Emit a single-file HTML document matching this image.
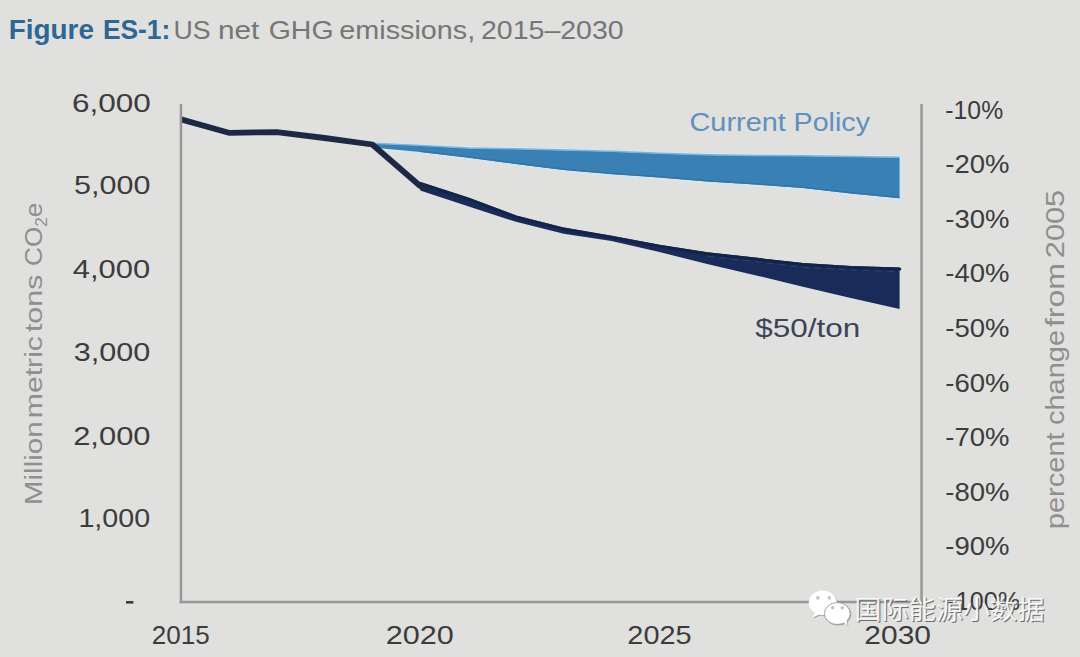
<!DOCTYPE html>
<html>
<head>
<meta charset="utf-8">
<title>Figure ES-1: US net GHG emissions, 2015–2030</title>
<style>
html,body{margin:0;padding:0;}
body{width:1080px;height:657px;overflow:hidden;background:#e0e0de;}
svg{display:block;}
text{font-family:"Liberation Sans","Noto Sans CJK SC",sans-serif;}
</style>
</head>
<body>
<svg width="1080" height="657" viewBox="0 0 1080 657">
<rect x="0" y="0" width="1080" height="657" fill="#e0e0de"/>

<g font-weight="bold" fill="#2e6694">
<text id="fig1" x="8.72" y="38.90" font-size="27.00" textLength="85.17" lengthAdjust="spacingAndGlyphs" >Figure</text>
<text id="fig2" x="102.88" y="38.90" font-size="27.00" textLength="67.45" lengthAdjust="spacingAndGlyphs" >ES-1:</text>
</g>
<g fill="#767676">
<text id="us" x="173.56" y="38.60" font-size="26.00" textLength="37.09" lengthAdjust="spacingAndGlyphs" >US</text>
<text id="net" x="217.90" y="38.60" font-size="26.00" textLength="41.38" lengthAdjust="spacingAndGlyphs" >net</text>
<text id="ghg" x="268.70" y="38.60" font-size="26.00" textLength="64.84" lengthAdjust="spacingAndGlyphs" >GHG</text>
<text id="emis" x="339.36" y="38.60" font-size="26.00" textLength="135.86" lengthAdjust="spacingAndGlyphs" >emissions,</text>
<text id="yrs" x="481.02" y="38.60" font-size="26.00" textLength="142.61" lengthAdjust="spacingAndGlyphs" >2015–2030</text>
</g>
<!-- current policy band -->
<polygon fill="none" stroke="#d4e6f0" stroke-width="4.5" stroke-linejoin="round" points="372.3,143.5 420.2,145.6 468,148.2 515.9,149.0 563.7,150.2 611.6,151.4 659.4,153.4 707.2,155.0 755.1,155.7 802.9,156.0 850.8,156.7 899.6,157.4 899.6,198.3 850.8,193.5 802.9,188.0 755.1,184.6 707.2,181.5 659.4,177.5 611.6,174.2 563.7,170.0 515.9,164.0 468,157.7 420.2,152.0 372.3,147.5"/>
<polygon fill="#3981b5" points="372.3,143.5 420.2,145.6 468,148.2 515.9,149.0 563.7,150.2 611.6,151.4 659.4,153.4 707.2,155.0 755.1,155.7 802.9,156.0 850.8,156.7 899.6,157.4 899.6,198.3 850.8,193.5 802.9,188.0 755.1,184.6 707.2,181.5 659.4,177.5 611.6,174.2 563.7,170.0 515.9,164.0 468,157.7 420.2,152.0 372.3,147.5"/>
<polyline fill="none" stroke="#7fb4da" stroke-width="1.4" points="330,139.8 372.3,143.3 420.2,145.4 468,148.0 515.9,148.8 563.7,150.0 611.6,151.20000000000002 659.4,153.20000000000002 707.2,154.8 755.1,155.5 802.9,155.8 850.8,156.5 899.6,157.20000000000002"/>
<polyline fill="none" stroke="#3a72a0" stroke-width="1.4" points="420.2,151.2 468,156.9 515.9,163.2 563.7,169.2 611.6,173.39999999999998 659.4,176.7 707.2,180.7 755.1,183.8 802.9,187.2 850.8,192.7 899.6,197.5"/>
<!-- $50 band -->
<polygon fill="#192c59" points="420.2,182 468,197.5 515.9,215.4 563.7,227.6 611.6,235.8 659.4,244.8 707.2,252.2 755.1,257.6 802.9,263.1 850.8,265.9 899.6,267.6 899.6,308.9 850.8,297.9 802.9,286.7 755.1,275.2 707.2,264 659.4,252 611.6,241 563.7,233.8 515.9,221.8 468,206.3 420.2,190.4"/>
<polyline fill="none" stroke="#142449" stroke-width="3" stroke-linejoin="round" stroke-linecap="round" points="420.2,183.5 468,199.0 515.9,216.9 563.7,229.1 611.6,237.3 659.4,246.3 707.2,253.7 755.1,259.1 802.9,264.6 850.8,267.4 899.8,269.1"/>
<polyline fill="none" stroke="#4a6595" stroke-width="0.9" stroke-dasharray="7 5" opacity="0.45" points="707.2,256.3 755.1,261.70000000000005 802.9,267.20000000000005 850.8,270.0 899.6,271.70000000000005"/>
<polyline fill="none" stroke="#1c2844" stroke-width="5.8" stroke-linejoin="round" points="181,119.4 228.8,132.8 276.7,132.1 324.5,138 372.3,144.5 420.2,186 430,189"/>

<g stroke="#979797" stroke-width="2.5" fill="none">
<line x1="180.95" y1="104" x2="180.95" y2="603.3"/>
<line x1="179.7" y1="602.1" x2="922.8" y2="602.1"/>
<line x1="921.55" y1="104" x2="921.55" y2="603.3"/>
</g>
<g fill="#3c3c3c">
<text id="l6" x="71.96" y="111.60" font-size="26.00" textLength="78.85" lengthAdjust="spacingAndGlyphs" >6,000</text>
<text id="l5" x="74.00" y="194.28" font-size="26.00" textLength="76.42" lengthAdjust="spacingAndGlyphs" >5,000</text>
<text id="l4" x="72.66" y="277.96" font-size="26.00" textLength="77.50" lengthAdjust="spacingAndGlyphs" >4,000</text>
<text id="l3" x="73.80" y="360.84" font-size="26.00" textLength="76.59" lengthAdjust="spacingAndGlyphs" >3,000</text>
<text id="l2" x="73.16" y="444.52" font-size="26.00" textLength="77.43" lengthAdjust="spacingAndGlyphs" >2,000</text>
<text id="l1" x="78.44" y="527.20" font-size="26.00" textLength="71.66" lengthAdjust="spacingAndGlyphs" >1,000</text>
</g>
<rect x="126" y="601" width="7.4" height="2.6" fill="#3c3c3c"/>
<g fill="#3c3c3c">
<text id="r1" x="945.36" y="118.94" font-size="25.88" textLength="57.79" lengthAdjust="spacingAndGlyphs" >-10%</text>
<text id="r2" x="945.36" y="173.38" font-size="25.88" textLength="64.18" lengthAdjust="spacingAndGlyphs" >-20%</text>
<text id="r3" x="945.36" y="227.82" font-size="25.88" textLength="64.18" lengthAdjust="spacingAndGlyphs" >-30%</text>
<text id="r4" x="945.36" y="282.26" font-size="25.88" textLength="64.18" lengthAdjust="spacingAndGlyphs" >-40%</text>
<text id="r5" x="945.36" y="336.70" font-size="25.88" textLength="64.18" lengthAdjust="spacingAndGlyphs" >-50%</text>
<text id="r6" x="945.36" y="391.94" font-size="25.88" textLength="64.18" lengthAdjust="spacingAndGlyphs" >-60%</text>
<text id="r7" x="945.36" y="446.38" font-size="25.88" textLength="64.18" lengthAdjust="spacingAndGlyphs" >-70%</text>
<text id="r8" x="945.36" y="500.82" font-size="25.88" textLength="64.18" lengthAdjust="spacingAndGlyphs" >-80%</text>
<text id="r9" x="945.36" y="555.26" font-size="25.88" textLength="64.18" lengthAdjust="spacingAndGlyphs" >-90%</text>
<text id="r10" x="947.20" y="609.70" font-size="25.88" textLength="73.00" lengthAdjust="spacingAndGlyphs" >-100%</text>
</g>
<g fill="#3c3c3c">
<text id="x15" x="151.76" y="644.00" font-size="26.30" textLength="58.02" lengthAdjust="spacingAndGlyphs" >2015</text>
<text id="x20" x="385.72" y="644.00" font-size="26.30" textLength="68.06" lengthAdjust="spacingAndGlyphs" >2020</text>
<text id="x25" x="627.38" y="644.00" font-size="26.30" textLength="64.34" lengthAdjust="spacingAndGlyphs" >2025</text>
<text id="x30" x="864.38" y="644.00" font-size="26.30" textLength="66.64" lengthAdjust="spacingAndGlyphs" >2030</text>
</g>
<g fill="#8f8f8f">
<text id="ya1" transform="translate(41.90,505.26) rotate(-90)" font-size="24.40" textLength="84.10" lengthAdjust="spacingAndGlyphs" >Million</text>
<text id="ya2" transform="translate(41.90,418.20) rotate(-90)" font-size="24.40" textLength="82.18" lengthAdjust="spacingAndGlyphs" >metric</text>
<text id="ya3" transform="translate(41.90,332.12) rotate(-90)" font-size="24.40" textLength="57.46" lengthAdjust="spacingAndGlyphs" >tons</text>
<text id="ya4" transform="translate(41.90,265.96) rotate(-90)" font-size="24.40" textLength="63.37" lengthAdjust="spacingAndGlyphs" >CO<tspan font-size="16.00" dy="5.00">2</tspan><tspan dy="-5.00">e</tspan></text>
<text id="yb1" transform="translate(1063.60,529.22) rotate(-90)" font-size="25.20" textLength="96.84" lengthAdjust="spacingAndGlyphs" >percent</text>
<text id="yb2" transform="translate(1063.60,425.02) rotate(-90)" font-size="25.20" textLength="95.05" lengthAdjust="spacingAndGlyphs" >change</text>
<text id="yb3" transform="translate(1063.60,327.12) rotate(-90)" font-size="25.20" textLength="64.22" lengthAdjust="spacingAndGlyphs" >from</text>
<text id="yb4" transform="translate(1063.60,258.20) rotate(-90)" font-size="25.20" textLength="68.38" lengthAdjust="spacingAndGlyphs" >2005</text>
</g>
<g fill="#6090bd">
<text id="cp1" x="689.46" y="130.70" font-size="25.20" textLength="96.42" lengthAdjust="spacingAndGlyphs" >Current</text>
<text id="cp2" x="793.56" y="130.70" font-size="25.20" textLength="76.43" lengthAdjust="spacingAndGlyphs" >Policy</text>
</g>
<g fill="#3a4559">
<text id="ton" x="755.16" y="336.50" font-size="25.00" textLength="105.06" lengthAdjust="spacingAndGlyphs" >$50/ton</text>
</g>
<!-- watermark -->
<g>
<g transform="translate(0.9,0.9)" fill="#7a7a7a" opacity="0.6">
<ellipse cx="822.8" cy="602.8" rx="14.1" ry="12.2"/>
<path d="M815.5,612 L812.6,617.6 L820.5,614 Z"/>
<ellipse cx="837.3" cy="613.5" rx="12.9" ry="11"/>
<path d="M843.5,622 L847.6,626 L846.5,619.5 Z"/>
</g>
<g fill="#ffffff">
<ellipse cx="822.8" cy="602.8" rx="14.1" ry="12.2"/>
<path d="M815.5,612 L812.6,617.6 L820.5,614 Z"/>
</g>
<g fill="#ffffff" stroke="#9a9a9a" stroke-width="0.9">
<ellipse cx="837.3" cy="613.5" rx="12.9" ry="11"/>
</g>
<path d="M843.5,622.2 L847.6,626 L846.5,619.5 Z" fill="#ffffff"/>
<g fill="#c4c4c4">
<circle cx="817.9" cy="597.9" r="1.8"/>
<circle cx="829.3" cy="597.9" r="1.8"/>
<circle cx="832.7" cy="607.8" r="1.7"/>
<circle cx="842.2" cy="607.8" r="1.7"/>
</g>
<text x="855.6" y="619.6" font-size="26" font-weight="400" fill="#5a5a5a" opacity="0.85" textLength="190" lengthAdjust="spacingAndGlyphs" style="font-family:'Liberation Sans','Noto Sans CJK SC',sans-serif">国际能源小数据</text>
<text x="854.6" y="618.6" font-size="26" font-weight="400" fill="#ffffff" opacity="0.88" textLength="190" lengthAdjust="spacingAndGlyphs" style="font-family:'Liberation Sans','Noto Sans CJK SC',sans-serif">国际能源小数据</text>
</g>

</svg>
</body>
</html>
